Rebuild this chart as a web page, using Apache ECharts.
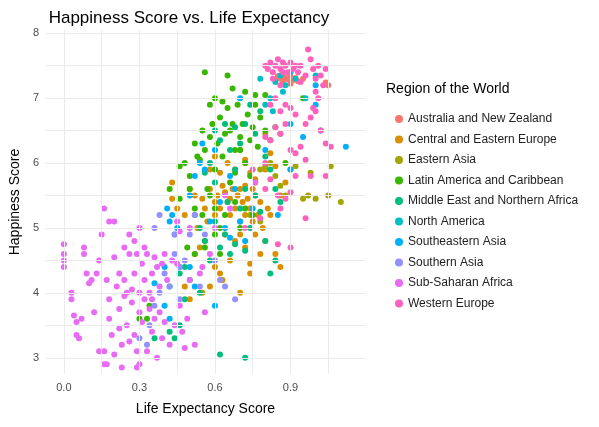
<!DOCTYPE html>
<html><head><meta charset="utf-8">
<script src="https://cdn.jsdelivr.net/npm/echarts@6/dist/echarts.min.js"></script>
<style>html,body{margin:0;background:#fff}#c{width:599px;height:427px}</style>
</head><body><div id="c"></div>
<script>
const regions = ['Australia and New Zealand','Central and Eastern Europe','Eastern Asia','Latin America and Caribbean','Middle East and Northern Africa','North America','Southeastern Asia','Southern Asia','Sub-Saharan Africa','Western Europe']
const colors = ['#F8766D','#D89000','#A3A500','#39B600','#00BF7D','#00BFC4','#00B0F6','#9590FF','#E76BF3','#FF62BC']
const xGrid = [0, 0.15, 0.3, 0.45, 0.6, 0.75, 0.9, 1.05]
const yGrid = [3, 3.5, 4, 4.5, 5, 5.5, 6, 6.5, 7, 7.5, 8]

const anz = [[0.84,7.28],[0.86,7.3],[0.87,7.25],[0.88,7.32],[0.89,7.29],[0.9,7.33],[0.91,7.28],[0.92,7.31],[0.93,7.26],[0.95,7.3],[1.04,7.24],[1.05,7.2],[0.85,7.34],[0.9,7.22]]
const cee = [[0.43,5.7],[0.43,5.45],[0.45,5.3],[0.48,5.2],[0.5,5.6],[0.52,5.5],[0.53,5.0],[0.55,5.45],[0.56,5.3],[0.57,5.1],[0.58,5.6],[0.6,5.4],[0.6,5.2],[0.61,5.5],[0.62,5.3],[0.63,5.65],[0.64,5.55],[0.65,5.4],[0.66,5.45],[0.66,5.2],[0.67,5.6],[0.68,5.3],[0.69,5.5],[0.7,5.1],[0.7,5.6],[0.71,5.4],[0.72,5.2],[0.72,5.65],[0.73,5.45],[0.74,5.3],[0.75,5.1],[0.75,5.6],[0.76,5.5],[0.77,5.2],[0.78,5.4],[0.79,5.0],[0.8,4.8],[0.81,5.3],[0.82,5.2],[0.84,4.6],[0.86,4.4],[0.62,4.3],[0.63,4.2],[0.6,4.4],[0.58,4.1],[0.55,4.0],[0.52,4.6],[0.54,4.7],[0.66,4.5],[0.68,4.8],[0.7,4.9],[0.72,4.7],[0.74,4.3],[0.76,4.9],[0.78,4.6],[0.8,5.9],[0.82,6.15],[0.84,5.95],[0.72,6.05],[0.74,5.85],[0.76,5.75],[0.62,5.85],[0.65,6.0],[0.68,5.9],[0.7,6.2],[0.58,5.9],[0.6,6.1],[0.64,4.9],[0.56,4.8],[0.86,5.5],[0.88,5.7],[0.5,3.9],[0.48,4.1],[0.7,4.0],[0.74,4.45]]
const eastAsia = [[0.72,6.0],[0.76,5.7],[0.78,5.9],[0.8,5.95],[0.82,6.0],[0.84,5.8],[0.86,5.65],[0.88,5.5],[0.9,5.9],[0.92,5.95],[0.95,5.45],[0.97,5.5],[1.0,5.45],[1.05,5.5],[1.1,5.4],[1.06,5.95],[0.98,5.85],[0.74,5.2],[0.78,5.1],[0.8,6.45]]
const latam = [[0.46,5.95],[0.48,6.0],[0.5,5.8],[0.52,6.3],[0.53,6.1],[0.55,6.5],[0.56,6.2],[0.57,5.6],[0.58,6.4],[0.59,6.6],[0.6,5.9],[0.61,6.3],[0.62,6.7],[0.63,6.1],[0.64,6.45],[0.65,6.85],[0.66,6.5],[0.66,5.7],[0.67,6.6],[0.68,6.2],[0.69,6.9],[0.7,6.4],[0.71,6.6],[0.72,6.0],[0.73,6.75],[0.74,6.35],[0.75,6.55],[0.76,6.9],[0.77,6.25],[0.78,6.7],[0.8,6.5],[0.82,6.35],[0.84,6.55],[0.86,6.45],[0.88,6.0],[0.58,6.9],[0.6,7.0],[0.63,6.95],[0.67,7.15],[0.72,7.1],[0.76,7.05],[0.56,7.4],[0.65,7.35],[0.5,5.6],[0.52,5.3],[0.55,5.2],[0.58,5.5],[0.6,5.3],[0.62,5.0],[0.64,5.2],[0.68,5.4],[0.7,5.0],[0.72,5.3],[0.74,5.8],[0.75,5.2],[0.52,4.6],[0.56,4.7],[0.6,4.9],[0.62,4.6],[0.46,5.45],[0.42,5.6],[0.34,3.8],[0.33,3.6],[0.3,3.6],[0.49,4.7],[0.95,7.0],[0.8,7.05],[0.68,5.85],[0.54,6.05],[0.7,6.2]]
const mena = [[0.52,5.2],[0.54,5.0],[0.56,4.8],[0.58,4.5],[0.6,5.1],[0.62,4.7],[0.64,4.9],[0.65,5.4],[0.66,4.6],[0.68,4.75],[0.7,5.3],[0.72,4.65],[0.74,5.0],[0.76,5.5],[0.78,5.25],[0.8,4.8],[0.82,4.3],[0.84,4.5],[0.6,6.5],[0.62,6.35],[0.64,6.6],[0.66,6.2],[0.68,6.55],[0.7,6.3],[0.72,6.6],[0.74,6.9],[0.76,6.45],[0.78,6.8],[0.8,6.1],[0.82,5.9],[0.84,5.6],[0.86,5.4],[0.56,5.85],[0.58,6.0],[0.6,5.7],[0.48,4.4],[0.5,4.2],[0.46,4.3],[0.42,4.1],[0.48,3.9],[0.46,3.5],[0.42,3.4],[0.36,3.3],[0.44,3.3],[0.62,3.05],[0.72,3.0],[0.54,4.0],[0.68,5.9],[0.72,5.6]]
const northAm = [[0.82,7.0],[0.84,7.25],[0.86,7.35],[0.88,7.2],[0.9,7.4],[0.92,7.3],[0.8,6.9],[0.83,6.8],[0.87,7.1],[0.96,7.0],[1.0,7.35],[0.78,7.3]]
const seAsia = [[0.41,5.3],[0.42,5.1],[0.43,5.2],[0.44,4.9],[0.45,5.0],[0.46,4.4],[0.5,4.4],[0.52,4.1],[0.36,4.15],[0.4,3.8],[0.42,3.6],[0.5,5.5],[0.52,5.8],[0.54,6.0],[0.55,6.3],[0.56,5.9],[0.58,5.1],[0.6,6.2],[0.62,5.4],[0.64,5.0],[0.66,5.8],[0.68,5.6],[0.7,5.1],[0.72,4.8],[0.75,5.3],[0.8,6.2],[0.9,6.6],[0.95,6.4],[1.0,7.2],[1.02,6.5],[1.0,6.9],[1.12,6.25],[0.85,5.2],[0.9,5.9],[0.4,4.4],[0.6,3.8],[0.66,4.85],[0.7,7.0]]
const sAsia = [[0.3,3.3],[0.33,3.2],[0.36,3.8],[0.38,4.0],[0.4,4.3],[0.42,4.1],[0.44,4.6],[0.46,4.4],[0.48,4.5],[0.5,4.9],[0.52,5.2],[0.54,4.1],[0.56,4.9],[0.6,4.5],[0.62,4.2],[0.64,4.1],[0.68,3.9],[0.38,5.2],[0.36,5.0],[0.34,3.5],[0.46,3.9],[0.44,4.9]]
const ssa = [[0.0,4.75],[0.0,4.6],[0.0,4.5],[0.0,4.4],[0.03,4.0],[0.03,3.9],[0.04,3.65],[0.05,3.55],[0.05,3.35],[0.06,3.3],[0.07,3.6],[0.08,4.7],[0.08,4.6],[0.09,4.3],[0.1,4.15],[0.11,4.2],[0.13,4.3],[0.14,4.5],[0.15,4.9],[0.16,3.1],[0.16,5.3],[0.17,4.2],[0.18,3.9],[0.18,3.6],[0.19,3.35],[0.2,3.05],[0.2,4.55],[0.21,4.1],[0.22,3.75],[0.22,3.45],[0.23,3.2],[0.24,4.7],[0.24,3.95],[0.25,3.5],[0.26,4.6],[0.26,3.25],[0.27,4.05],[0.27,3.85],[0.28,4.3],[0.28,3.35],[0.29,4.6],[0.29,3.1],[0.3,4.0],[0.3,3.7],[0.31,4.45],[0.31,3.55],[0.32,4.2],[0.32,3.9],[0.33,4.6],[0.33,3.1],[0.34,4.0],[0.34,3.75],[0.35,4.3],[0.35,3.4],[0.36,4.55],[0.36,3.6],[0.37,4.4],[0.37,3.0],[0.38,4.1],[0.38,3.7],[0.39,4.45],[0.39,3.3],[0.4,4.6],[0.4,3.55],[0.41,4.2],[0.42,3.2],[0.43,4.5],[0.44,3.5],[0.45,4.45],[0.46,3.8],[0.47,3.4],[0.48,3.15],[0.49,3.6],[0.5,4.2],[0.52,3.2],[0.54,4.3],[0.56,3.7],[0.58,4.6],[0.14,3.1],[0.18,5.1],[0.12,3.7],[0.16,2.9],[0.17,2.9],[0.23,2.85],[0.29,2.85],[0.3,2.9],[0.2,5.1],[0.25,4.0],[0.35,3.9],[0.3,5.0],[0.26,4.9],[0.28,4.8],[0.24,4.2],[0.22,4.3],[0.32,4.7],[0.45,5.1],[0.5,5.0],[0.55,4.4],[0.6,5.0],[0.64,5.5],[0.66,5.3],[0.76,5.7],[0.46,4.95]]
const westEu = [[0.8,7.5],[0.81,7.45],[0.82,7.55],[0.83,7.4],[0.84,7.5],[0.85,7.6],[0.86,7.45],[0.87,7.55],[0.88,7.5],[0.89,7.4],[0.9,7.55],[0.91,7.45],[0.92,7.5],[0.93,7.4],[0.94,7.5],[0.96,7.35],[0.97,7.75],[0.98,7.6],[0.99,7.45],[1.0,7.3],[1.01,7.5],[1.02,7.35],[1.04,7.45],[1.03,7.2],[1.0,7.1],[1.01,7.0],[0.99,6.85],[1.0,6.8],[0.98,6.7],[0.96,6.6],[1.02,6.5],[1.04,6.3],[0.82,6.9],[0.84,7.0],[0.86,6.8],[0.88,6.9],[0.9,6.85],[0.92,6.75],[0.84,6.55],[0.86,6.45],[0.88,6.6],[0.9,6.2],[0.92,6.15],[0.94,6.25],[0.8,6.4],[0.82,6.35],[0.85,5.5],[0.86,5.3],[0.88,5.45],[0.9,5.55],[0.92,5.8],[0.96,6.05],[0.98,5.8],[1.04,5.8],[1.06,6.25],[0.78,5.15],[0.8,5.6],[0.82,5.75],[0.75,5.9],[0.96,5.15],[0.8,6.0],[0.83,7.3],[0.86,7.2],[0.87,7.4],[0.94,7.25],[0.72,5.0],[0.9,4.7],[0.85,4.75]]

const groups = [anz, cee, eastAsia, latam, mena, northAm, seAsia, sAsia, ssa, westEu]

const chart = echarts.init(document.getElementById('c'))
const font = 'Liberation Sans, Arial, sans-serif'
// grid lines drawn as markLines so the axes can keep a fine interval for label placement
const gridSeries = {
  type: 'scatter', data: [], silent: true, z: 0,
  markLine: {
    symbol: 'none', silent: true, label: { show: false },
    lineStyle: { color: '#ebebeb', width: 1, type: 'solid' },
    data: xGrid.map(v => ({ xAxis: v })).concat(yGrid.map(v => ({ yAxis: v })))
  }
}
chart.setOption({
  textStyle: { fontFamily: font },
  title: { text: 'Happiness Score vs. Life Expectancy', left: 184, top: 5, textAlign: 'center',
    textStyle: { fontSize: 17, fontWeight: 'normal', color: '#000', fontFamily: font } },
  legend: {
    orient: 'vertical', left: 390, top: 108, itemGap: 8.5,
    icon: 'circle', itemWidth: 8, itemHeight: 8,
    textStyle: { fontSize: 12, color: '#222', fontFamily: font },
    data: regions
  },
  graphic: [{ type: 'text', left: 386, top: 82, style: { text: 'Region of the World', fontSize: 14, fill: '#000', fontFamily: font } }],
  grid: { left: 36, right: 233, top: 30, bottom: 53 },
  xAxis: {
    type: 'value', min: -0.075, max: 1.2, interval: 0.075,
    name: 'Life Expectancy Score', nameLocation: 'middle', nameGap: 28,
    nameTextStyle: { fontSize: 14, color: '#000' },
    axisLine: { show: false }, axisTick: { show: false },
    axisLabel: { color: '#4d4d4d', fontSize: 11,
      formatter: v => { const r = Math.round(v * 1000); return (r % 300 === 0 && r >= 0 && r <= 900) ? (r / 1000).toFixed(1) : '' } },
    splitLine: { show: false }
  },
  yAxis: {
    type: 'value', min: 2.75, max: 8.05, interval: 0.25,
    name: 'Happiness Score', nameLocation: 'middle', nameGap: 20,
    nameTextStyle: { fontSize: 14, color: '#000' },
    axisLine: { show: false }, axisTick: { show: false },
    axisLabel: { color: '#4d4d4d', fontSize: 11, margin: 6,
      formatter: v => Math.abs(v - Math.round(v)) < 1e-6 ? String(Math.round(v)) : '' },
    splitLine: { show: false }
  },
  series: [gridSeries].concat(groups.map((d, i) => ({
    name: regions[i], type: 'scatter', data: d, symbolSize: 6,
    itemStyle: { color: colors[i], opacity: 1 }
  })))
})
</script></body></html>
